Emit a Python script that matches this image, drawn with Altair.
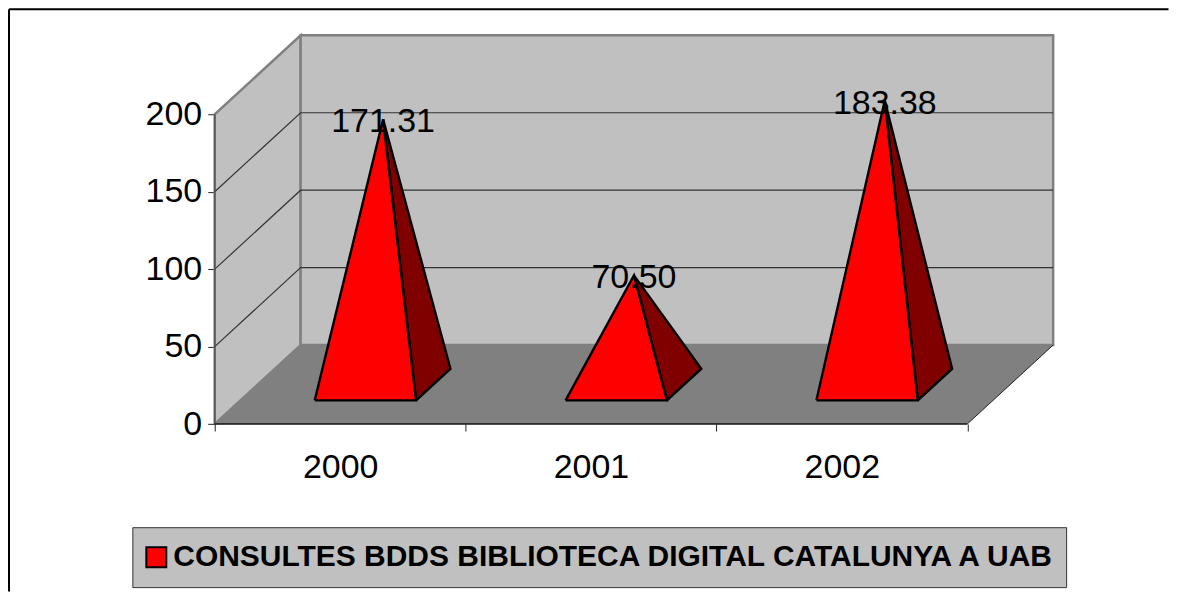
import altair as alt
import pandas as pd

years = ["2000", "2001", "2002"]
values = [171.31, 70.50, 183.38]
series_name = "CONSULTES BDDS BIBLIOTECA DIGITAL CATALUNYA A UAB"
y_ticks = [0, 50, 100, 150, 200]

# oblique projection of the 3D box, in data units
DX, DY = 0.3424, 51.0
N = len(years)
W, H = 839.5, 389.2
XMAX, YMAX = N + DX, 200 + DY
FONT = "Liberation Sans"

def P(u, d, v):
    return (u + d * DX, v + d * DY)

def poly(name, pts, **extra):
    pts = list(pts) + [pts[0]]
    return pd.DataFrame([dict(name=name, i=i, x=p[0], y=p[1], **extra) for i, p in enumerate(pts)])

label_expr = " : ".join(f"datum.value == {i + 0.5} ? '{y}'" for i, y in enumerate(years)) + " : ''"
x_axis = alt.Axis(
    values=[i * 0.5 for i in range(2 * N + 1)], labelExpr=label_expr, domain=False, grid=False, title=None,
    tickSize=7, tickColor="#222222", tickOpacity={"condition": {"test": "datum.value % 1 == 0", "value": 1}, "value": 0},
    labelFont=FONT, labelFontSize=34, labelColor="black", labelPadding=20, labelOverlap=False, labelFlush=False, labelAngle=0,
)
y_axis = alt.Axis(
    values=y_ticks, domain=False, grid=False, title=None, tickSize=7, tickColor="#222222",
    labelFont=FONT, labelFontSize=34, labelColor="black", labelPadding=6, labelOverlap=False, labelFlush=False,
)

X = lambda **k: alt.X("x:Q", scale=alt.Scale(domain=[0, XMAX], nice=False, zero=False), axis=x_axis, **k)
Y = lambda **k: alt.Y("y:Q", scale=alt.Scale(domain=[0, YMAX], nice=False, zero=False), axis=y_axis, **k)
ORD = alt.Order("i:Q")

walls = pd.concat([
    poly("left", [P(0, 0, 0), P(0, 1, 0), P(0, 1, 200), P(0, 0, 200)]),
    poly("back", [P(0, 1, 0), P(N, 1, 0), P(N, 1, 200), P(0, 1, 200)]),
])
wall_layer = alt.Chart(walls).mark_line(fill="#C0C0C0", stroke="#808080", strokeWidth=2.5).encode(
    x=X(), y=Y(), detail="name:N", order=ORD,
)

floor = poly("floor", [P(0, 0, 0), P(N, 0, 0), P(N, 1, 0), P(0, 1, 0)])
floor_layer = alt.Chart(floor).mark_line(fill="#808080", strokeOpacity=0).encode(x=X(), y=Y(), order=ORD)

front_edge = alt.Chart(pd.DataFrame([dict(i=0, x=0, y=0), dict(i=1, x=N, y=0)])).mark_line(
    color="#111111", strokeWidth=1.5).encode(x=X(), y=Y(), order=ORD)
right_pts = [P(N, 0, 0), P(N, 1, 0)]
right_edge = alt.Chart(pd.DataFrame([dict(i=i, x=p[0], y=p[1]) for i, p in enumerate(right_pts)])).mark_line(
    color="#222222", strokeWidth=1).encode(x=X(), y=Y(), order=ORD)
left_axis = alt.Chart(pd.DataFrame([dict(i=0, x=0, y=0), dict(i=1, x=0, y=200)])).mark_line(
    color="#555555", strokeWidth=1.5).encode(x=X(), y=Y(), order=ORD)

grid_rows = []
for v in y_ticks[1:-1]:
    a, b, c = P(0, 0, v), P(0, 1, v), P(N, 1, v)
    grid_rows += [dict(g=v, i=0, x=a[0], y=a[1]), dict(g=v, i=1, x=b[0], y=b[1]), dict(g=v, i=2, x=c[0], y=c[1])]
grid_layer = alt.Chart(pd.DataFrame(grid_rows)).mark_line(color="#333333", strokeWidth=1.2).encode(
    x=X(), y=Y(), detail="g:N", order=ORD)

# pyramids: base runs over 0.3-0.7 of category width and of the depth
fronts, sides, labels = [], [], []
for k, v in enumerate(values):
    u0, u1, um = k + 0.296, k + 0.7, k + 0.5
    apex = P(um, 0.5, v)
    fronts.append(poly(f"f{k}", [P(u0, 0.3, 0), P(u1, 0.3, 0), apex], series=series_name))
    sides.append(poly(f"s{k}", [P(u1, 0.3, 0), P(u1, 0.7, 0), apex]))
    labels.append(dict(x=apex[0], y=apex[1], v=v))

side_layer = alt.Chart(pd.concat(sides)).mark_line(
    fill="#800000", stroke="black", strokeWidth=2.4, strokeJoin="miter").encode(
    x=X(), y=Y(), detail="name:N", order=ORD)

front_layer = alt.Chart(pd.concat(fronts)).mark_line(
    stroke="black", strokeWidth=2.4, strokeJoin="miter").encode(
    x=X(), y=Y(), detail="name:N", order=ORD,
    fill=alt.Fill("series:N", scale=alt.Scale(domain=[series_name], range=["#FF0000"]), legend=alt.Legend(
        title=None, orient="none", legendX=-82.5, legendY=492.5, direction="vertical",
        fillColor="#C0C0C0", strokeColor="#333333", padding=9, clipHeight=42,
        symbolType="square", symbolSize=400, symbolStrokeColor="black", symbolStrokeWidth=2,
        labelFont=FONT, labelFontSize=30, labelFontWeight="bold", labelColor="black", labelLimit=1000,
        labelOffset=2,
    )),
)

text_layer = alt.Chart(pd.DataFrame(labels)).mark_text(
    font=FONT, fontSize=34, color="black", baseline="middle", align="center", dy=3).encode(
    x=X(), y=Y(), text=alt.Text("v:Q", format=".2f"))

top_line = alt.Chart(pd.DataFrame({"a": [0]})).mark_rule(color="black", strokeWidth=2).encode(
    x=alt.value(-206), x2=alt.value(955), y=alt.value(-26))
left_line = alt.Chart(pd.DataFrame({"a": [0]})).mark_rule(color="black", strokeWidth=2).encode(
    x=alt.value(-206), y=alt.value(-26), y2=alt.value(557))

chart = alt.layer(
    wall_layer, floor_layer, grid_layer, left_axis, front_edge, right_edge,
    side_layer, front_layer, text_layer, top_line, left_line,
).properties(
    width=W, height=H, padding=0, background="white",
).configure_view(stroke=None)

chart.save("out.html", embed_options={"renderer": "svg", "actions": False})
